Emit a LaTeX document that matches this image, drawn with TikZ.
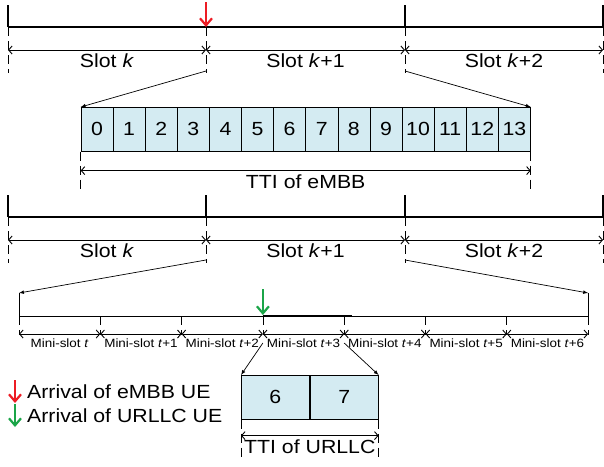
\documentclass[tikz,border=0pt]{standalone}
\usepackage{fontspec}
\setmainfont{Liberation Sans}[FakeStretch=1.12]
\usetikzlibrary{arrows,arrows.meta,calc}

\definecolor{cellblue}{RGB}{212,235,242}
\definecolor{embbred}{RGB}{237,28,36}
\definecolor{urllcgreen}{RGB}{27,165,72}

\begin{document}
\begin{tikzpicture}[x=1pt, y=-1pt,
  timeline/.style={line width=1.5pt},
  tick/.style={line width=1.1pt},
  ext/.style={line width=0.8pt, dash pattern=on 9pt off 5pt},
  dim/.style={{Straight Barb[length=3.5pt,width=8pt]}-{Straight Barb[length=3.5pt,width=8pt]}, line width=0.9pt},
  proj/.style={-latex, line width=0.7pt},
  cell/.style={draw, fill=cellblue, line width=0.6pt, minimum height=44pt, inner sep=0pt, anchor=north west, font=\fontsize{19}{19}\selectfont},
  lbl/.style={font=\fontsize{19}{19}\selectfont},
  small/.style={font=\fontsize{12}{12}\selectfont},
  ue/.style={-{Straight Barb[length=7pt,width=12pt]}, line width=2.2pt}]
  \useasboundingbox (0,0) rectangle (604,466);

  % upper timeline (eMBB)
  \foreach \x [count=\i from 0] in {8,206,405,603} {
    \coordinate (t\i) at (\x,27);
    \coordinate (d\i) at (\x,50);
    \draw[tick] (\x,5) -- (t\i);
    \draw[ext] (t\i) -- ++(0,46);
  }
  \draw[timeline] (t0) -- (t3);
  \foreach \a/\b/\t in {0/1/Slot \textit{k}, 1/2/Slot \textit{k}+1, 2/3/Slot \textit{k}+2}
    \draw[dim] (d\a) -- (d\b) node[midway, below, lbl] {\t};
  \draw[ue, embbred] ($(t1)+(0,-25)$) -- (t1);

  \foreach \n in {0,...,13}
    \node[cell, minimum width=32.1pt] (c\n) at (80.7+32.1*\n,107) {\n};
  \draw[proj] ($(t1)+(0,44)$) -- (c0.north west);
  \draw[proj] ($(t2)+(0,44)$) -- (c13.north east);
  \draw[ext] (c0.south west) -- ++(0,39);
  \draw[ext] (c13.south east) -- ++(0,39);
  \draw[dim] ($(c0.south west)+(0,19)$) -- ($(c13.south east)+(0,19)$)
    node[midway, below, lbl] {TTI of eMBB};

  % lower timeline (URLLC)
  \foreach \x [count=\i from 0] in {8,206,405,603} {
    \coordinate (s\i) at (\x,217);
    \coordinate (e\i) at (\x,240);
    \draw[tick] (\x,195) -- (s\i);
    \draw[ext] (s\i) -- ++(0,46);
  }
  \draw[timeline] (s0) -- (s3);
  \foreach \a/\b/\t in {0/1/Slot \textit{k}, 1/2/Slot \textit{k}+1, 2/3/Slot \textit{k}+2}
    \draw[dim] (e\a) -- (e\b) node[midway, below, lbl] {\t};

  \foreach \i in {0,...,7} {
    \coordinate (m\i) at (19+81.3*\i,316);
    \coordinate (n\i) at (19+81.3*\i,334);
    \draw[ext] (m\i) -- ++(0,19);
  }
  \coordinate (f0) at ($(m0)+(0,-23)$);
  \coordinate (f1) at ($(m7)+(0,-23)$);
  \draw[line width=1pt] (f0) -- (m0) -- (m7) -- (f1);
  \draw[line width=2.5pt] (m3) -- ++(89,0);
  \draw[proj] ($(s1)+(0,43)$) -- (f0);
  \draw[proj] ($(s2)+(0,43)$) -- (f1);
  \draw[ue, urllcgreen] ($(m3)+(0,-27)$) -- ($(m3)+(0,-1)$);

  \foreach \t [count=\i from 0] in {Mini-slot \textit{t}, Mini-slot \textit{t}+1,
      Mini-slot \textit{t}+2, Mini-slot \textit{t}+3, Mini-slot \textit{t}+4,
      Mini-slot \textit{t}+5, Mini-slot \textit{t}+6} {
    \pgfmathtruncatemacro{\j}{\i+1}
    \draw[dim] (n\i) -- (n\j) node[midway, below=4pt, small, inner sep=0pt] {\t};
  }

  \node[cell, minimum width=68.2pt] (u0) at (241,375) {6};
  \node[cell, minimum width=68.2pt] (u1) at (u0.north east) {7};
  \draw[proj] ($(m3)+(0,27)$) -- (u0.north west);
  \draw[proj] ($(m4)+(0,27)$) -- (u1.north east);
  \draw[ext] (u0.south west) -- ++(0,41);
  \draw[ext] (u1.south east) -- ++(0,41);
  \draw[dim] ($(u0.south west)+(0,16)$) -- ($(u1.south east)+(0,16)$)
    node[midway, below, lbl] {TTI of URLLC};

  % legend
  \node[lbl, anchor=west, inner sep=0pt] (leg1) at (27,392) {Arrival of eMBB UE};
  \node[lbl, anchor=west, inner sep=0pt] (leg2) at (27,416) {Arrival of URLLC UE};
  \draw[ue, embbred] ($(leg1.west)+(-12,-12)$) -- ($(leg1.west)+(-12,11)$);
  \draw[ue, urllcgreen] ($(leg2.west)+(-12,-12)$) -- ($(leg2.west)+(-12,11)$);
\end{tikzpicture}
\end{document}
